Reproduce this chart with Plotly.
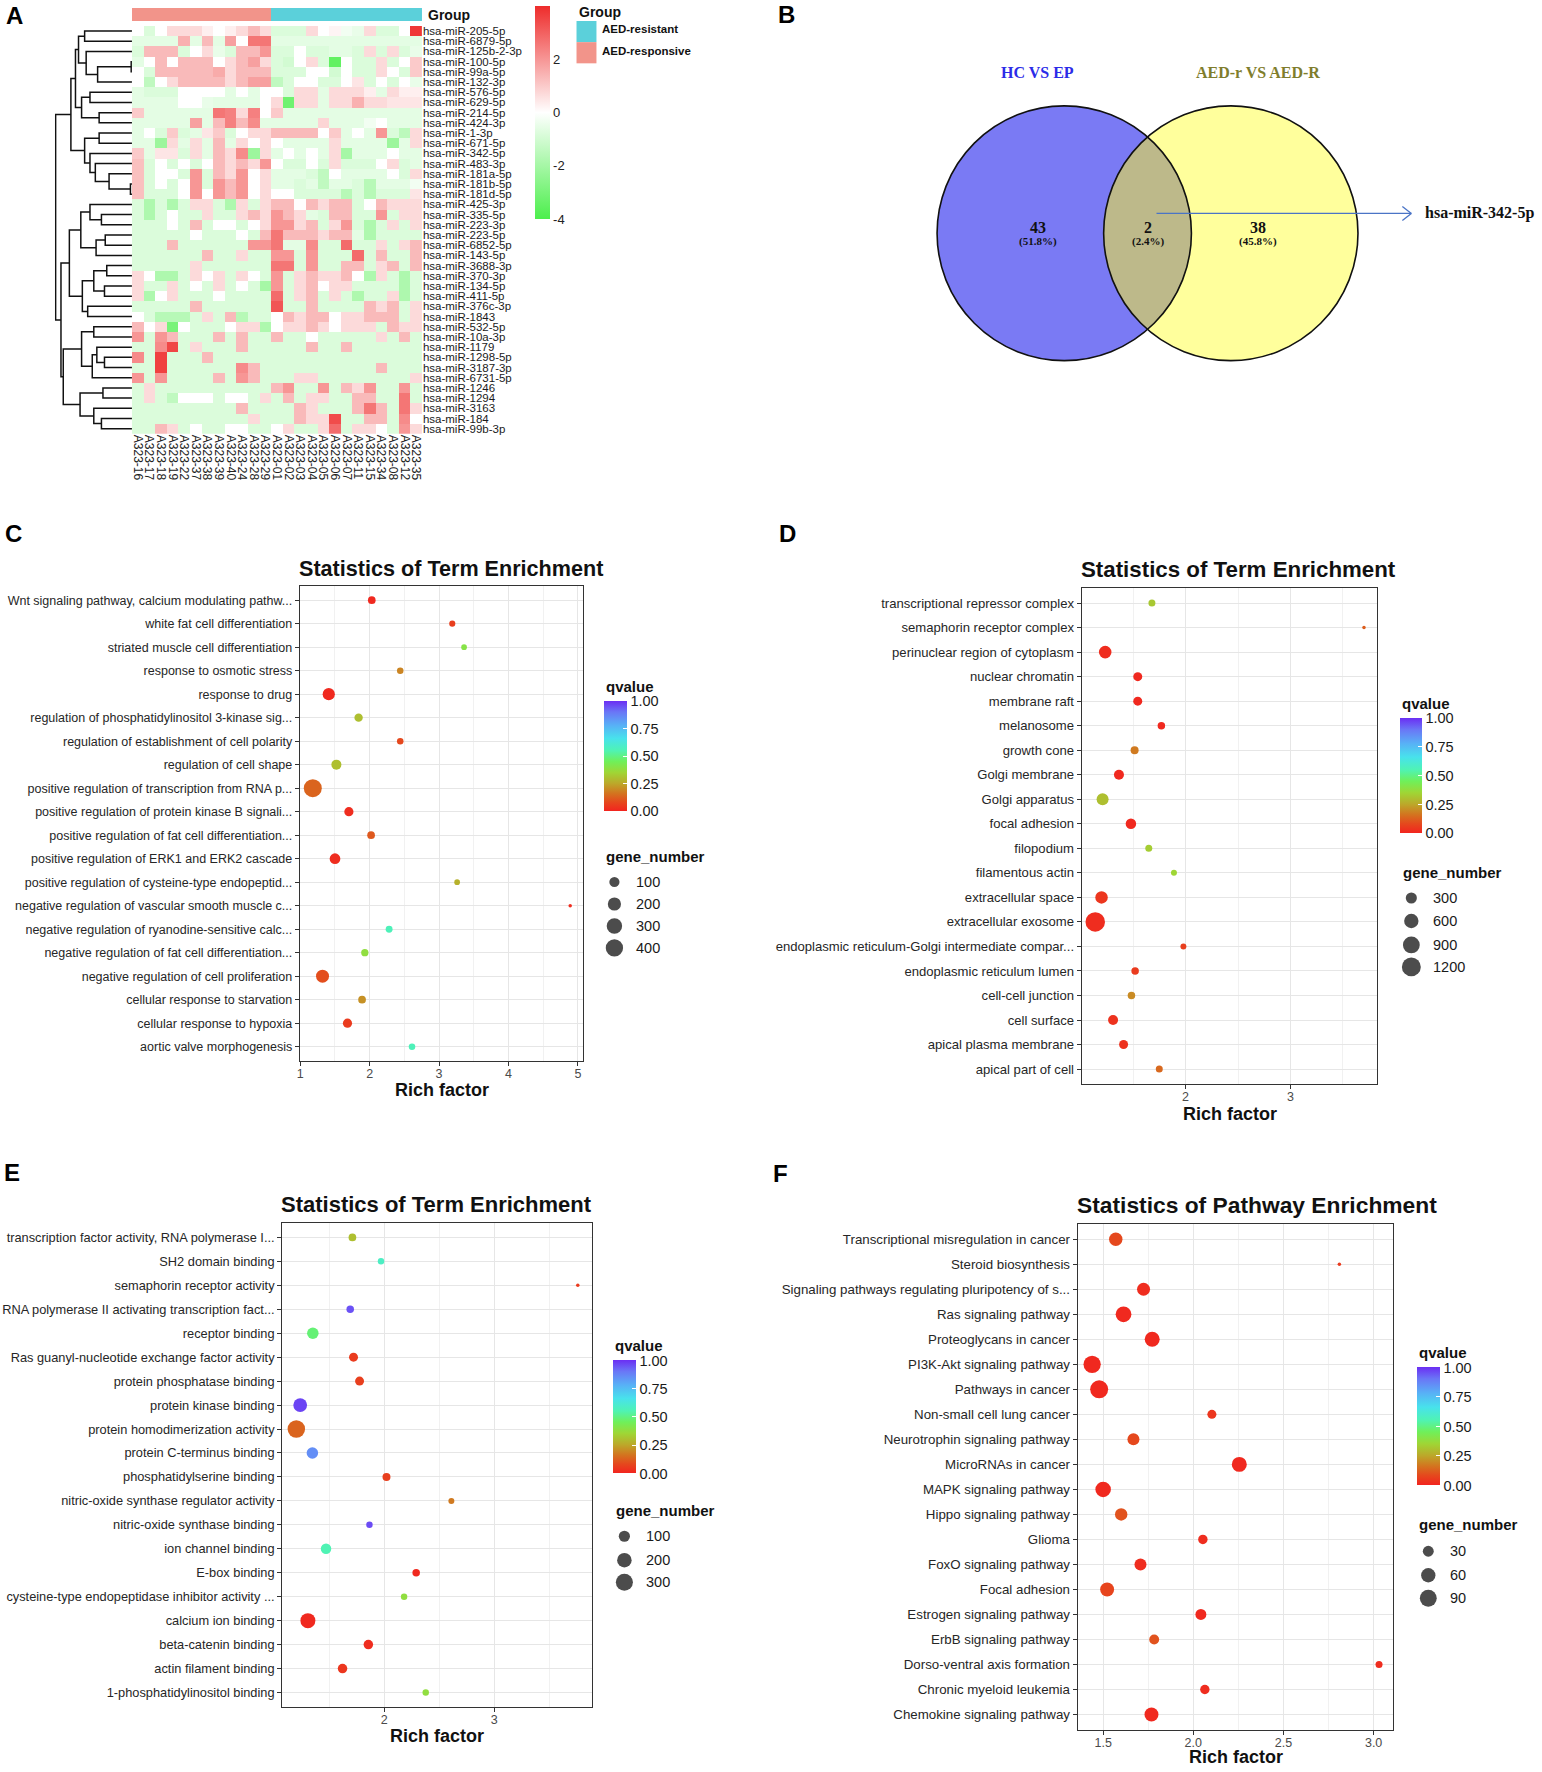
import numpy as np
import plotly.graph_objects as go

W, H = 1542, 1772
SANS = "Liberation Sans, Arial, sans-serif"
SERIF = "Liberation Serif, Times New Roman, serif"

# ---------------- Panel A data ----------------
samples = ["A323-16", "A323-17", "A323-18", "A323-19", "A323-22", "A323-37", "A323-38", "A323-39",
           "A323-40", "A323-24", "A323-28", "A323-29",
           "A323-01", "A323-02", "A323-03", "A323-04", "A323-05", "A323-06", "A323-07", "A323-11",
           "A323-15", "A323-34", "A323-08", "A323-12", "A323-35"]
sample_group = ["AED-responsive"] * 12 + ["AED-resistant"] * 13
mirnas = ["hsa-miR-205-5p", "hsa-miR-6879-5p", "hsa-miR-125b-2-3p", "hsa-miR-100-5p", "hsa-miR-99a-5p",
          "hsa-miR-132-3p", "hsa-miR-576-5p", "hsa-miR-629-5p", "hsa-miR-214-5p", "hsa-miR-424-3p",
          "hsa-miR-1-3p", "hsa-miR-671-5p", "hsa-miR-342-5p", "hsa-miR-483-3p", "hsa-miR-181a-5p",
          "hsa-miR-181b-5p", "hsa-miR-181d-5p", "hsa-miR-425-3p", "hsa-miR-335-5p", "hsa-miR-223-3p",
          "hsa-miR-223-5p", "hsa-miR-6852-5p", "hsa-miR-143-5p", "hsa-miR-3688-3p", "hsa-miR-370-3p",
          "hsa-miR-134-5p", "hsa-miR-411-5p", "hsa-miR-376c-3p", "hsa-miR-1843", "hsa-miR-532-5p",
          "hsa-miR-10a-3p", "hsa-miR-1179", "hsa-miR-1298-5p", "hsa-miR-3187-3p", "hsa-miR-6731-5p",
          "hsa-miR-1246", "hsa-miR-1294", "hsa-miR-3163", "hsa-miR-184", "hsa-miR-99b-3p"]
expr = [
    [0, -0.8, 0, 0.7, 0.7, 0.7, 0.3, 0, 0.3, 0.7, 1.3, 0.7, -0.8, -0.8, -0.8, 0.7, 0, 0.2, -0.3, -0.5, 0.7, -0.8, -0.8, 0, 3.8],
    [-0.6, -0.6, -0.6, -0.6, 1.5, -0.6, 1.3, -0.6, 1.8, 0, 2.6, 2.6, -0.6, -0.6, -0.6, -0.6, -0.6, -0.6, -0.6, -0.6, -0.6, -0.6, -0.6, -0.6, -0.6],
    [-0.8, 1.3, 1.3, 1.3, -0.8, 0, 0.7, -0.5, -0.8, 1.3, 1.3, 2.0, -0.8, -0.8, 0, -0.8, -0.8, -0.6, -0.6, -0.8, 0.7, -0.8, 0.7, -0.8, -0.5],
    [-0.6, 0, 1.3, 0, 1.3, 1.3, 1.3, 0, 0.7, 1.3, 1.8, 0.7, -0.8, -1.0, 0, 0.7, -0.8, -3.5, 0, -0.8, -0.8, 0.7, -0.8, 0, 1.0],
    [0, -0.8, 1.3, 1.3, 1.3, 1.3, 1.3, 1.6, 0.7, 1.3, 1.3, 1.3, -0.8, -0.8, -0.8, 0, 0, -1.0, 0, -0.8, -0.8, 0.7, 0, -0.8, 1.0],
    [0, -1.4, 0, 0.7, 1.3, 1.3, 1.3, 1.3, 0.7, 1.3, 1.8, 1.8, -1.4, -0.8, 0, 0, -0.8, -0.8, 0, 0.5, -0.8, 0, -0.8, 0, -0.5],
    [-0.6, -0.8, -0.8, -0.8, 0, 0, 0, 0, -0.6, 0, -0.6, 0, 0, -0.8, 0.7, 0.7, -0.6, 0.7, 0.7, 0.7, 0.3, -0.6, 0.7, 0.3, 0.3],
    [-0.6, -0.6, -0.6, -0.6, 0, 0, -0.5, -0.6, -0.6, -0.6, -0.6, 0, 0.7, -3.2, 0.7, 0.7, -0.6, 0.7, 0.7, 1.5, 0.7, 0.7, 0.5, 0.5, 0.5],
    [1.0, -0.6, -0.6, -0.6, -0.6, -0.6, -0.6, 2.6, 2.4, 0.7, 2.4, 0, 1.0, -0.6, -0.6, -0.6, -0.6, -0.6, -0.6, -0.6, -0.6, -0.6, -0.6, -0.6, -0.6],
    [-0.6, -0.6, -0.6, -0.6, -0.6, 1.8, -0.6, 1.3, 2.4, 1.3, 2.2, -0.6, -0.6, -0.6, -0.6, -0.6, 0.8, -0.6, -0.6, -0.6, -0.3, 0, -0.6, -0.6, -0.6],
    [-0.6, 0, -0.8, 1.0, -0.8, -0.6, 0.5, 1.0, -0.8, 0, 0.7, 0.7, 1.3, 1.3, 1.3, 1.3, 0, 1.0, -0.6, 0, -0.6, 2.0, -0.8, -1.5, 0.7],
    [-0.6, -0.6, -2.2, 0.7, -0.6, 0.7, -0.6, 1.3, -0.6, 0.7, 0, 0.7, 0, -0.6, -0.6, -0.6, -0.6, 0.7, -0.6, -0.6, -0.6, -0.6, -2.2, -0.6, 0.7],
    [1.0, -0.6, 0.5, 0.5, -0.8, 0.7, -0.6, 1.3, 0.7, 2.2, -2.2, 0.7, -0.6, 0, -0.6, 0, -0.6, 0.7, -2.0, -0.6, -0.6, -0.6, 0, -0.6, -0.6],
    [1.2, -0.8, 0, -0.8, 0, -0.8, 0, 1.3, 0.7, 1.3, 0.7, 2.0, 0, -0.8, -0.8, 0, -0.8, 0.7, -0.8, -0.8, -0.8, 0, 0.7, -0.8, -0.6],
    [1.2, -0.8, 0, 0, -0.8, 2.0, -0.8, 1.3, 0.7, 2.0, 0, 0.7, -0.6, -0.6, -0.6, -0.8, -1.4, 0, -0.6, -0.6, -0.6, -0.6, 0, -0.8, 0.7],
    [1.2, -0.8, 0, -0.8, 0, 2.0, -0.8, 2.0, 1.3, 2.0, 0, 0.7, -0.6, -0.6, -0.8, -0.6, -1.4, -0.6, -0.6, -0.8, -1.6, -0.6, -0.6, -0.6, -0.3],
    [1.2, -0.8, -0.8, -0.8, 0, 2.0, 0, 2.0, 1.3, 2.0, 0, 0.7, 0, 0, -0.8, -0.8, -0.8, -0.8, -1.6, -0.8, -1.6, -0.8, -0.8, -0.8, 0.5],
    [-0.8, -1.8, -0.8, -1.8, -0.8, 0.7, 0.7, -0.8, -1.8, 0.7, -0.8, 0.7, 1.3, 1.3, 0, 1.3, 0.7, 1.3, 1.3, -0.8, 0, 1.3, 0.7, 0.7, 0.7],
    [-0.8, -1.8, -0.8, 0, -0.8, -0.8, 0.7, -0.8, -0.8, 0.7, 1.3, 0.7, 2.0, 1.3, 0.7, -0.6, -0.8, 1.3, 1.3, -0.8, -0.8, 2.0, -0.8, 0.7, 0.7],
    [-0.8, -0.8, -0.8, 0, -0.8, 1.3, -0.8, 0, 0, -0.8, 0, 0.7, 2.0, 2.0, 0.7, 1.3, -0.8, 0.7, 2.0, -0.8, -1.8, -0.8, 0.7, -0.8, 0.7],
    [-0.8, -0.8, -0.8, -0.8, -0.8, 0, -0.8, -0.8, -0.8, 0, -0.8, 1.3, 2.6, 1.3, 1.3, 1.3, 0.7, 1.3, 1.3, -0.6, -1.8, -0.8, -0.8, -0.8, -0.8],
    [-0.8, -0.8, -0.8, 1.3, -0.8, -0.8, -0.8, -0.8, -0.8, -0.8, 2.0, 2.0, 2.6, -0.6, -0.6, 2.2, -0.8, -0.8, 2.8, -0.8, -0.8, 0.7, -0.8, 0.7, 1.3],
    [-0.8, -0.8, -0.8, -0.8, -0.8, -0.8, 1.3, -0.8, -0.8, 0.7, -0.8, -0.8, 2.0, 2.0, -0.8, 2.0, -0.8, -0.8, -0.8, 2.8, -0.8, 1.3, -0.8, -0.8, 1.3],
    [-0.8, -0.8, -0.8, -0.8, -0.8, 0.7, -0.8, -0.8, -0.8, -0.8, -0.8, -0.8, 2.6, 2.6, -0.8, 2.0, -0.8, -0.8, 1.3, 1.3, -0.8, 0.7, 1.3, -0.8, 1.3],
    [0.7, 0, -1.8, -1.8, -0.8, 0.7, 0, 0.7, -0.8, 0.7, 0, -0.8, 2.0, -0.8, 0.7, 1.3, 0.7, 0.7, 1.3, 0, -1.8, 0.7, -0.8, -1.8, -0.8],
    [0.7, -0.8, -0.8, 0.7, -0.8, 0, -0.8, 0.7, -0.8, 0, -0.8, -2.0, 2.0, -0.8, 0.7, 1.3, 0, 0.7, 0.7, -0.8, -0.8, -0.8, -0.8, -1.8, -0.8],
    [0.7, -1.8, 0, 0.7, -0.8, -0.8, -0.8, 0, -0.8, -0.8, -0.8, -0.8, 2.8, -0.8, 0.7, 1.3, -0.8, 0.7, -0.8, -1.8, -0.8, -0.8, 0.7, -1.8, -0.8],
    [-0.8, -0.8, -0.8, -0.8, -0.8, 1.3, -0.8, -0.8, -0.8, -0.8, -0.8, -0.8, 3.2, -0.8, -0.8, 1.3, -0.8, -0.8, -0.8, -0.8, 1.3, 0.7, 1.3, -0.8, 0.7],
    [0, -0.8, -1.6, -1.6, -1.6, -0.8, 0.7, -0.8, 1.3, -1.6, -0.8, -0.8, 0, 1.3, 0.7, 1.3, 1.3, 0, 0.7, 0.7, 1.3, 1.3, 1.3, -0.8, 0.7],
    [1.3, 0, 0.7, -3.0, 0, -0.8, -0.8, -0.8, 0, 0.7, 0.7, -1.8, 0, 0.7, 0.7, 1.3, 0.7, 0, 0.7, 0.7, 0.7, -0.8, 1.3, 0.7, 0.7],
    [2.0, -0.8, 2.0, 1.3, -0.8, -0.8, -0.8, 1.3, -0.8, 1.3, -0.8, -0.8, 1.3, -0.8, -0.8, 0, -0.8, -0.8, -0.8, -0.8, -0.8, 0.7, -0.8, 1.3, -0.8],
    [-0.8, -0.8, 2.2, 3.5, -0.8, 0.7, -0.8, -0.8, -0.8, 1.3, -0.8, -0.8, -0.8, -0.8, -0.8, 1.3, -0.8, -0.8, 1.3, -0.8, -0.8, -0.8, -0.8, -0.8, -0.8],
    [2.2, -0.8, 3.6, -0.8, -0.8, -0.8, 1.3, -0.8, -0.8, -0.8, -0.8, -0.8, -0.8, -0.8, -0.8, -0.8, -0.8, -0.8, -0.8, -0.8, -0.8, -0.8, -0.8, -0.8, -0.8],
    [-0.8, -0.8, 3.6, -0.8, -0.8, -0.8, -0.8, -0.8, -0.8, 2.2, 1.3, -0.8, -0.8, -0.8, -0.8, -0.8, -0.8, -0.8, -0.8, -0.8, -0.8, 1.3, -0.8, -0.8, -0.8],
    [2.0, -0.8, 2.0, -0.8, -0.8, -0.8, -0.8, 1.3, -0.8, 2.0, 1.3, -0.8, -0.8, -0.8, 0.7, 0.7, -0.8, -0.8, -0.8, -0.8, -0.8, -0.8, -0.8, -0.8, 0.7],
    [-0.8, 0.7, -0.8, -0.8, -0.8, -0.8, -0.8, -0.8, -0.8, -0.8, -0.8, -0.8, 1.3, 2.0, -0.8, -0.8, 2.0, -0.8, 1.3, 0.7, 2.0, -0.8, -0.8, 2.0, -0.8],
    [-0.8, 0.7, -0.8, -1.4, 0, 0, 0, -0.8, 0, 0, -0.8, 0.7, -0.8, 1.3, -0.8, 0.7, 0.7, -0.8, -0.8, 1.3, 1.3, -0.8, -0.8, 2.6, -0.8],
    [-0.8, -0.8, -0.8, -0.8, -0.8, -0.8, -0.8, -0.8, -0.8, 1.3, -0.8, -0.8, -0.8, -0.8, 1.3, 0.7, -0.8, -0.8, -0.8, 1.3, 2.6, 1.3, -0.8, 2.6, 0.7],
    [-0.8, -0.8, -0.8, -0.8, -0.8, -0.8, -0.8, -0.8, -0.8, -0.8, 0.7, -0.8, -0.8, -0.8, 1.3, 0.7, 0.7, 3.4, -0.8, -0.8, 1.3, 1.3, -0.8, 2.2, 0],
    [-0.8, -0.8, 1.3, 0.7, -0.8, 0, -0.8, -0.8, 0, 0, -0.8, -0.8, 0, 0.7, -0.8, -0.8, 0.7, 2.8, -0.8, 0.7, 0.7, 0, -0.8, 2.0, 0.7],
]
heat_ticks = [4, 2, 0, -2, -4]
# row dendrogram: [left, right, merge height]; leaves are row indices
top_cluster = [[[0, 1, 0.62], [2, [[3, 4, 0.01], 5, 0.45], 0.6], 0.7], [[6, 7, 0.55], [8, 9, 0.43], 0.66], 0.74]
mid_cluster = [[10, 11, 0.43], [12, [13, [14, [15, 16, 0.02], 0.3], 0.48], 0.55], 0.62]
b1 = [[17, [18, 19, 0.4], 0.55], [[20, 21, 0.35], 22, 0.47], 0.67]
b2 = [[[23, 24, 0.33], [25, 26, 0.36], 0.5], [27, 28, 0.58], 0.65]
c1 = [[29, 30, 0.5], [[31, [32, 33, 0.36], 0.46], 34, 0.52], 0.66]
c2 = [[35, 36, 0.38], [37, [38, 39, 0.4], 0.5], 0.68]
row_tree = [[top_cluster, mid_cluster, 0.8], [[b1, b2, 0.82], [c1, c2, 0.9], 0.93], 1.0]

# ---------------- Panel B data ----------------
venn_sets = ["HC VS EP", "AED-r VS AED-R"]
venn_counts = [43, 2, 38]          # only set 1, both, only set 2
venn_shared = "hsa-miR-342-5p"

# ---------------- Panels C-F data ----------------
C_terms = ["Wnt signaling pathway, calcium modulating pathw...", "white fat cell differentiation",
           "striated muscle cell differentiation", "response to osmotic stress", "response to drug",
           "regulation of phosphatidylinositol 3-kinase sig...", "regulation of establishment of cell polarity",
           "regulation of cell shape", "positive regulation of transcription from RNA p...",
           "positive regulation of protein kinase B signali...", "positive regulation of fat cell differentiation...",
           "positive regulation of ERK1 and ERK2 cascade", "positive regulation of cysteine-type endopeptid...",
           "negative regulation of vascular smooth muscle c...", "negative regulation of ryanodine-sensitive calc...",
           "negative regulation of fat cell differentiation...", "negative regulation of cell proliferation",
           "cellular response to starvation", "cellular response to hypoxia", "aortic valve morphogenesis"]
C_rich = [2.03, 3.19, 3.36, 2.44, 1.41, 1.84, 2.44, 1.52, 1.18, 1.70, 2.02, 1.50, 3.26, 4.89, 2.28, 1.93, 1.32, 1.89, 1.68, 2.61]
C_q = [0.01, 0.06, 0.40, 0.19, 0.01, 0.30, 0.08, 0.30, 0.13, 0.02, 0.11, 0.02, 0.27, 0.02, 0.56, 0.38, 0.09, 0.21, 0.05, 0.56]
C_genes = [42, 20, 16, 25, 162, 55, 25, 93, 440, 73, 42, 113, 16, 6, 30, 36, 192, 42, 73, 25]
C_breaks = [100, 200, 300, 400]

D_terms = ["transcriptional repressor complex", "semaphorin receptor complex", "perinuclear region of cytoplasm",
           "nuclear chromatin", "membrane raft", "melanosome", "growth cone", "Golgi membrane", "Golgi apparatus",
           "focal adhesion", "filopodium", "filamentous actin", "extracellular space", "extracellular exosome",
           "endoplasmic reticulum-Golgi intermediate compar...", "endoplasmic reticulum lumen", "cell-cell junction",
           "cell surface", "apical plasma membrane", "apical part of cell"]
D_rich = [1.68, 3.70, 1.235, 1.545, 1.545, 1.77, 1.515, 1.366, 1.21, 1.48, 1.65, 1.89, 1.20, 1.14, 1.98, 1.52, 1.485, 1.31, 1.41, 1.75]
D_q = [0.32, 0.12, 0.02, 0.01, 0.01, 0.01, 0.17, 0.01, 0.30, 0.01, 0.33, 0.35, 0.04, 0.02, 0.06, 0.05, 0.20, 0.03, 0.03, 0.14]
D_genes = [71, 10, 424, 161, 161, 90, 111, 221, 371, 255, 71, 41, 415, 1290, 41, 90, 90, 221, 161, 71]
D_breaks = [300, 600, 900, 1200]

E_terms = ["transcription factor activity, RNA polymerase I...", "SH2 domain binding", "semaphorin receptor activity",
           "RNA polymerase II activating transcription fact...", "receptor binding",
           "Ras guanyl-nucleotide exchange factor activity", "protein phosphatase binding", "protein kinase binding",
           "protein homodimerization activity", "protein C-terminus binding", "phosphatidylserine binding",
           "nitric-oxide synthase regulator activity", "nitric-oxide synthase binding", "ion channel binding",
           "E-box binding", "cysteine-type endopeptidase inhibitor activity ...", "calcium ion binding",
           "beta-catenin binding", "actin filament binding", "1-phosphatidylinositol binding"]
E_rich = [1.71, 1.97, 3.76, 1.69, 1.35, 1.72, 1.775, 1.235, 1.20, 1.346, 2.02, 2.61, 1.865, 1.47, 2.29, 2.18, 1.305, 1.855, 1.62, 2.377]
E_q = [0.30, 0.58, 0.05, 0.95, 0.48, 0.05, 0.06, 0.97, 0.13, 0.85, 0.06, 0.17, 0.96, 0.55, 0.01, 0.38, 0.01, 0.02, 0.04, 0.38]
E_genes = [34, 20, 6, 32, 109, 54, 54, 176, 320, 109, 38, 16, 20, 84, 32, 20, 218, 64, 64, 20]
E_breaks = [100, 200, 300]

F_terms = ["Transcriptional misregulation in cancer", "Steroid biosynthesis",
           "Signaling pathways regulating pluripotency of s...", "Ras signaling pathway", "Proteoglycans in cancer",
           "PI3K-Akt signaling pathway", "Pathways in cancer", "Non-small cell lung cancer",
           "Neurotrophin signaling pathway", "MicroRNAs in cancer", "MAPK signaling pathway", "Hippo signaling pathway",
           "Glioma", "FoxO signaling pathway", "Focal adhesion", "Estrogen signaling pathway", "ErbB signaling pathway",
           "Dorso-ventral axis formation", "Chronic myeloid leukemia", "Chemokine signaling pathway"]
F_rich = [1.57, 2.81, 1.724, 1.613, 1.772, 1.439, 1.478, 2.103, 1.668, 2.255, 1.50, 1.60, 2.053, 1.707, 1.522, 2.042, 1.783, 3.03, 2.064, 1.768]
F_q = [0.08, 0.05, 0.02, 0.01, 0.01, 0.01, 0.01, 0.04, 0.08, 0.01, 0.01, 0.10, 0.02, 0.02, 0.07, 0.01, 0.10, 0.02, 0.02, 0.01]
F_genes = [51, 3, 47, 76, 67, 95, 105, 18, 38, 67, 73, 42, 20, 38, 56, 30, 23, 9, 20, 56]
F_breaks = [30, 60, 90]

# ---------------- helpers ----------------
def xd(a, b):
    return [a / W, b / W]


def yd(a, b):
    return [1 - b / H, 1 - a / H]


Q_SCALE = [[0.0, "#f2241f"], [0.08, "#e5481d"], [0.16, "#d3741f"], [0.25, "#bca82a"],
           [0.35, "#9fd635"], [0.45, "#6ff05a"], [0.55, "#4ff3b4"], [0.66, "#48e2ec"],
           [0.78, "#58b0f6"], [0.9, "#6a76f6"], [1.0, "#6b2ef3"]]

fig = go.Figure()
layout = dict(width=W, height=H, margin=dict(l=0, r=0, t=0, b=0), paper_bgcolor="white",
              plot_bgcolor="rgba(0,0,0,0)", showlegend=False, font=dict(family=SANS, color="#222"))
annotations = []
shapes = []

# ---------------- Panel A ----------------
fig.add_trace(go.Heatmap(
    z=expr, x=samples, y=mirnas, zmin=-4, zmax=4, xaxis="x", yaxis="y",
    colorscale=[[0, "#4cef4c"], [0.5, "#ffffff"], [1, "#ee2c2b"]],
    colorbar=dict(x=533 / W, xanchor="left", y=1 - 5 / H, yanchor="top", len=213, lenmode="pixels",
                  thickness=15, xpad=0, ypad=0, outlinewidth=0, ticks="",
                  tickvals=heat_ticks, ticktext=[str(t) for t in heat_ticks],
                  tickfont=dict(size=13, color="#222", family=SANS)),
    hoverinfo="skip"))
layout["xaxis"] = dict(domain=xd(129.3, 420), anchor="y", tickangle=90, ticks="", showgrid=False,
                       tickmode="linear", tick0=0, dtick=1,
                       zeroline=False, tickfont=dict(size=12, color="#222"), showline=False)
layout["yaxis"] = dict(domain=yd(25, 433.3), anchor="x", side="right", autorange="reversed", ticks="",
                       tickmode="linear", tick0=0, dtick=1,
                       showgrid=False, zeroline=False, tickfont=dict(size=11.5, color="#1a1a1a"), showline=False)

group_code = [0 if g == "AED-responsive" else 1 for g in sample_group]
fig.add_trace(go.Heatmap(z=[group_code], x=samples, y=["Group"], zmin=0, zmax=1, xaxis="x2", yaxis="y2",
                         colorscale=[[0, "#f2948a"], [0.5, "#f2948a"], [0.5, "#5bd0da"], [1, "#5bd0da"]],
                         showscale=False, hoverinfo="skip"))
layout["xaxis2"] = dict(domain=xd(129.3, 420), anchor="y2", visible=False)
layout["yaxis2"] = dict(domain=yd(7, 20), anchor="x2", visible=False)
annotations.append(dict(x=424 / W, y=1 - 14 / H, xref="paper", yref="paper", text="<b>Group</b>",
                        showarrow=False, xanchor="left", yanchor="middle", font=dict(size=14, color="#111")))

# dendrogram
dx, dy = [], []


def walk(node):
    if isinstance(node, int):
        return float(node), 0.0
    left, right, h = node
    yl, hl = walk(left)
    yr, hr = walk(right)
    dx.extend([hl, h, h, hr, None])
    dy.extend([yl, yl, yr, yr, None])
    return (yl + yr) / 2.0, h


walk(row_tree)
fig.add_trace(go.Scatter(x=dx, y=dy, mode="lines", line=dict(color="#111", width=1.5), xaxis="x3", yaxis="y3",
                         hoverinfo="skip"))
layout["xaxis3"] = dict(domain=xd(52, 129.3), anchor="y3", range=[1.01, 0], visible=False)
layout["yaxis3"] = dict(domain=yd(25, 433.3), anchor="x3", range=[len(mirnas) - 0.5, -0.5], visible=False)

# overlay pixel axis
layout["xaxis4"] = dict(domain=[0, 1], anchor="y4", range=[0, W], visible=False)
layout["yaxis4"] = dict(domain=[0, 1], anchor="x4", range=[H, 0], visible=False)

# group legend
annotations.append(dict(x=575, y=11, xref="x4", yref="y4", text="<b>Group</b>", showarrow=False,
                        xanchor="left", yanchor="middle", font=dict(size=14, color="#111")))
for i, (lab, col) in enumerate([("AED-resistant", "#5bd0da"), ("AED-responsive", "#f2948a")]):
    y0 = 20 + i * 21.2
    shapes.append(dict(type="rect", xref="x4", yref="y4", x0=575, x1=595, y0=y0, y1=y0 + 21.2,
                       fillcolor=col, line=dict(width=0)))
    annotations.append(dict(x=599, y=y0 + 8.5, xref="x4", yref="y4", text="<b>%s</b>" % lab, showarrow=False,
                            xanchor="left", yanchor="middle", font=dict(size=11.5, color="#111")))

# ---------------- Panel B (Venn) ----------------
cy, r = 232.5, 127.5
c1x, c2x = 1064.0, 1231.0
d = c2x - c1x
theta = np.arccos(d / (2 * r))
shapes.append(dict(type="circle", xref="x4", yref="y4", x0=c1x - r, x1=c1x + r, y0=cy - r, y1=cy + r,
                   fillcolor="#7a7af4", line=dict(width=0)))
shapes.append(dict(type="circle", xref="x4", yref="y4", x0=c2x - r, x1=c2x + r, y0=cy - r, y1=cy + r,
                   fillcolor="#ffff9c", line=dict(width=0)))
a1 = np.linspace(-theta, theta, 60)
a2 = np.linspace(np.pi - theta, np.pi + theta, 60)
pts = [(c1x + r * np.cos(a), cy + r * np.sin(a)) for a in a1] + [(c2x + r * np.cos(a), cy + r * np.sin(a)) for a in a2]
lens = "M " + " L ".join("%.2f,%.2f" % p for p in pts) + " Z"
shapes.append(dict(type="path", xref="x4", yref="y4", path=lens, fillcolor="#bdb98a", line=dict(width=0)))
for cx in (c1x, c2x):
    shapes.append(dict(type="circle", xref="x4", yref="y4", x0=cx - r, x1=cx + r, y0=cy - r, y1=cy + r,
                       line=dict(color="#111", width=1.6)))
total = sum(venn_counts)
text_x = [c1x - 0.21 * r, (c1x + c2x) / 2, c2x + 0.21 * r]
for tx, cnt in zip(text_x, venn_counts):
    annotations.append(dict(x=tx, y=227, xref="x4", yref="y4", text="<b>%d</b>" % cnt, showarrow=False,
                            font=dict(family=SERIF, size=16, color="#111")))
    annotations.append(dict(x=tx, y=240.5, xref="x4", yref="y4", text="<b>(%.1f%%)</b>" % (100.0 * cnt / total),
                            showarrow=False, font=dict(family=SERIF, size=11, color="#111")))
for tx, lab, col in [(text_x[0], venn_sets[0], "#2b2be8"), (text_x[2], venn_sets[1], "#7f7d2c")]:
    annotations.append(dict(x=tx, y=72, xref="x4", yref="y4", text="<b>%s</b>" % lab, showarrow=False,
                            font=dict(family=SERIF, size=16, color=col)))
ay = 212.7
ax0, ax1 = (c1x + c2x) / 2 + 9, 1412
arrow_col = "#4a74c6"
shapes.append(dict(type="line", xref="x4", yref="y4", x0=ax0, x1=ax1, y0=ay, y1=ay, line=dict(color=arrow_col, width=1.3)))
shapes.append(dict(type="line", xref="x4", yref="y4", x0=ax1 - 9, x1=ax1, y0=ay - 7, y1=ay, line=dict(color=arrow_col, width=1.3)))
shapes.append(dict(type="line", xref="x4", yref="y4", x0=ax1 - 9, x1=ax1, y0=ay + 7, y1=ay, line=dict(color=arrow_col, width=1.3)))
annotations.append(dict(x=1424, y=ay, xref="x4", yref="y4", text="<b>%s</b>" % venn_shared, showarrow=False,
                        xanchor="left", font=dict(family=SERIF, size=16, color="#111")))

# ---------------- Panels C-F ----------------
panels = [
    dict(terms=C_terms, rich=C_rich, q=C_q, genes=C_genes, breaks=C_breaks, title="Statistics of Term Enrichment",
         px=(297.7, 581.6), py=(585.7, 1061), dtick=1, tick0=1, minor=0.5, fmt="d", d=(3.5, 18.0), lab=12.5, tsz=21.6,
         title_y=568, xt_y=1090, cb=(603, 701, 23, 110), qt_y=686, gn=(603, 856, 613, 633, [882, 904, 926, 948])),
    dict(terms=D_terms, rich=D_rich, q=D_q, genes=D_genes, breaks=D_breaks, title="Statistics of Term Enrichment",
         px=(1081.6, 1378), py=(588, 1084), dtick=1, tick0=0, minor=0.5, fmt="d", d=(3.5, 19.5), lab=13.1, tsz=22.3,
         title_y=569, xt_y=1114, cb=(1401, 718, 22, 115), qt_y=703, gn=(1402, 872, 1412, 1432, [898, 921, 945, 967])),
    dict(terms=E_terms, rich=E_rich, q=E_q, genes=E_genes, breaks=E_breaks, title="Statistics of Term Enrichment",
         px=(280, 590.4), py=(1223.4, 1707.8), dtick=1, tick0=0, minor=0.5, fmt="d", d=(3.5, 17.5), lab=12.8, tsz=22,
         title_y=1204.5, xt_y=1737, cb=(612, 1361, 23, 113), qt_y=1346, gn=(612.7, 1511, 623, 643, [1537, 1561, 1583])),
    dict(terms=F_terms, rich=F_rich, q=F_q, genes=F_genes, breaks=F_breaks, title="Statistics of Pathway Enrichment",
         px=(1077.6, 1394), py=(1224.6, 1730.5), dtick=0.5, tick0=1.5, minor=0.25, fmt=".1f", d=(3.5, 18.0), lab=13.3, tsz=22.8,
         title_y=1205.7, xt_y=1758, cb=(1417.7, 1368, 23, 118), qt_y=1353, gn=(1417.7, 1525, 1429, 1449, [1552, 1576, 1599])),
]


def diameter(g, gmin, gmax, dmin, dmax):
    return dmin + (dmax - dmin) * np.sqrt((np.asarray(g, float) - gmin) / (gmax - gmin))


for i, p in enumerate(panels):
    n = 5 + i
    ca = "coloraxis" if i == 0 else "coloraxis%d" % (i + 1)
    gmin, gmax = min(p["genes"]), max(p["genes"])
    sizes = diameter(p["genes"], gmin, gmax, *p["d"])
    fig.add_trace(go.Scatter(x=p["rich"], y=p["terms"], mode="markers", xaxis="x%d" % n, yaxis="y%d" % n,
                             marker=dict(size=sizes, sizemode="diameter", color=p["q"], coloraxis=ca,
                                         line=dict(width=0), opacity=1), hoverinfo="skip"))
    lo, hi = min(p["rich"]), max(p["rich"])
    pad = 0.05 * (hi - lo)
    nt = len(p["terms"])
    layout["xaxis%d" % n] = dict(
        domain=xd(*p["px"]), anchor="y%d" % n, range=[lo - pad, hi + pad], dtick=p["dtick"], tick0=p["tick0"],
        tickformat=p["fmt"], showgrid=True, gridcolor="#e6e6e6", gridwidth=1.1, zeroline=False,
        minor=dict(dtick=p["minor"], showgrid=True, gridcolor="#f1f1f1", gridwidth=0.7),
        showline=True, mirror=True, linecolor="#333", linewidth=1.3, ticks="outside", ticklen=4,
        tickcolor="#333", tickwidth=1, ticklabelstandoff=-3, tickfont=dict(size=12.5, color="#4a4a4a"))
    layout["yaxis%d" % n] = dict(
        domain=yd(*p["py"]), anchor="x%d" % n, type="category", categoryorder="array",
        categoryarray=p["terms"], range=[nt - 1 + 0.6, -0.6], showgrid=True, gridcolor="#e6e6e6",
        gridwidth=1.1, zeroline=False, showline=True, mirror=True, linecolor="#333", linewidth=1.3,
        ticks="outside", ticklen=4, tickcolor="#333", tickwidth=1, tickfont=dict(size=p["lab"], color="#262626"))
    cbx, cby, cbw, cbl = p["cb"]
    layout[ca] = dict(colorscale=Q_SCALE, cmin=0, cmax=1, colorbar=dict(
        x=cbx / W, xanchor="left", y=1 - cby / H, yanchor="top", len=cbl, lenmode="pixels", thickness=cbw,
        xpad=0, ypad=0, outlinewidth=0, tickvals=[0, 0.25, 0.5, 0.75, 1.0],
        ticktext=["0.00", "0.25", "0.50", "0.75", "1.00"], ticks="inside", ticklen=4, tickcolor="white",
        tickfont=dict(size=14.5, color="#1a1a1a", family=SANS)))
    # titles
    annotations.append(dict(x=p["px"][0] - 3, y=p["title_y"], xref="x4", yref="y4", text="<b>%s</b>" % p["title"],
                            showarrow=False, xanchor="left", yanchor="middle", font=dict(size=p["tsz"], color="#111")))
    annotations.append(dict(x=(p["px"][0] + p["px"][1]) / 2, y=p["xt_y"], xref="x4", yref="y4",
                            text="<b>Rich factor</b>", showarrow=False, yanchor="middle",
                            font=dict(size=18, color="#111")))
    annotations.append(dict(x=cbx, y=p["qt_y"], xref="x4", yref="y4", text="<b>qvalue</b>", showarrow=False,
                            xanchor="left", yanchor="middle", font=dict(size=15, color="#111")))
    gx, gy, dotx, labx, ys = p["gn"]
    annotations.append(dict(x=gx, y=gy, xref="x4", yref="y4", text="<b>gene_number</b>", showarrow=False,
                            xanchor="left", yanchor="middle", font=dict(size=15, color="#111")))
    bsz = diameter(p["breaks"], gmin, gmax, *p["d"])
    fig.add_trace(go.Scatter(x=[dotx] * len(ys), y=ys, mode="markers", xaxis="x4", yaxis="y4",
                             marker=dict(size=bsz, sizemode="diameter", color="black", line=dict(width=0)),
                             hoverinfo="skip", cliponaxis=False))
    for yv, b in zip(ys, p["breaks"]):
        annotations.append(dict(x=labx, y=yv, xref="x4", yref="y4", text=str(b), showarrow=False,
                                xanchor="left", yanchor="middle", font=dict(size=14.5, color="#1a1a1a")))

# panel letters
for lab, x, y in [("A", 12, 15), ("B", 786, 14), ("C", 11, 533), ("D", 787, 533), ("E", 9, 1173), ("F", 780, 1174)]:
    annotations.append(dict(x=x, y=y, xref="x4", yref="y4", text="<b>%s</b>" % lab, showarrow=False,
                            font=dict(size=24, color="#000")))

layout["annotations"] = annotations
layout["shapes"] = shapes
fig.update_layout(**layout)
fig.write_html("out.html", config={"displayModeBar": False},
               post_script="document.documentElement.style.margin='0';document.body.style.margin='0';"
                           "document.body.style.padding='0';document.body.style.overflow='hidden';")
